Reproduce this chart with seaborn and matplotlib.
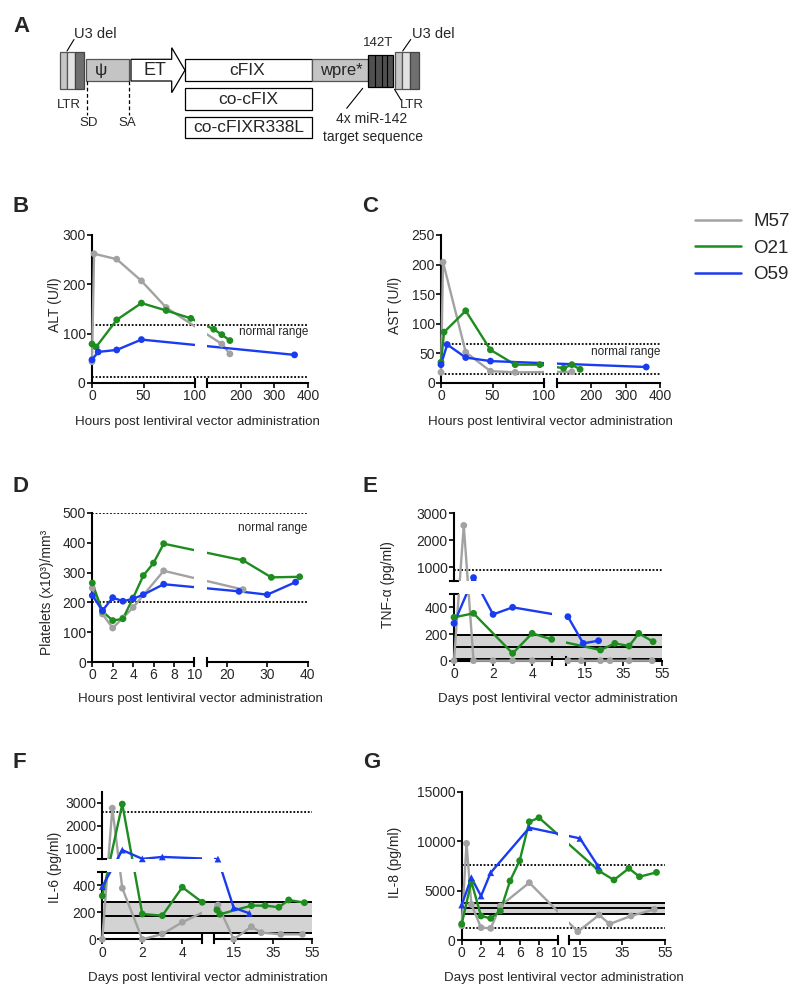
import numpy as np
import pandas as pd
import matplotlib
matplotlib.use("Agg")
import matplotlib.pyplot as plt
import seaborn as sns
from matplotlib.path import Path
from matplotlib.patches import Rectangle, Polygon
from matplotlib.lines import Line2D
from matplotlib.ticker import NullLocator

sns.set_style("ticks")
plt.rcParams["font.family"] = ["Liberation Sans", "DejaVu Sans"]

W, H = 800, 1000
ANIMALS = ["M57", "O21", "O59"]
PALETTE = {"M57": "#a2a2a2", "O21": "#1e8c1e", "O59": "#1a3cf0"}

# ---------------- data ----------------
# B: ALT (U/l) vs hours
alt_x_m57 = [0, 2, 24, 48, 72, 144, 168]
alt_y_m57 = [43, 262, 251, 207, 153, 79, 59]
alt_x_o21 = [0, 4, 24, 48, 72, 96, 120, 144, 168]
alt_y_o21 = [79, 73, 128, 162, 147, 131, 109, 98, 86]
alt_x_o59 = [0, 6, 24, 48, 360]
alt_y_o59 = [47, 63, 67, 88, 57]
alt_normal = [12, 118]

# C: AST (U/l) vs hours
ast_x_m57 = [0, 2, 24, 48, 72, 144]
ast_y_m57 = [18, 204, 52, 20, 18, 19]
ast_x_o21 = [0, 3, 24, 48, 72, 96, 120, 144, 168]
ast_y_o21 = [35, 86, 122, 56, 31, 31, 25, 31, 23]
ast_x_o59 = [0, 6, 24, 48, 360]
ast_y_o59 = [31, 65, 43, 37, 27]
ast_normal = [15, 66]

# D: platelets
plt_x_m57 = [0, 1, 2, 3, 4, 7, 24]
plt_y_m57 = [248, 161, 114, 148, 183, 306, 243]
plt_x_o21 = [0, 1, 2, 3, 4, 5, 6, 7, 24, 31, 38]
plt_y_o21 = [265, 170, 139, 145, 215, 290, 332, 397, 341, 284, 286]
plt_x_o59 = [0, 1, 2, 3, 4, 5, 7, 23, 30, 37]
plt_y_o59 = [223, 173, 216, 204, 212, 226, 261, 237, 226, 268]
plt_normal = [200, 500]

# E: TNF-alpha (pg/ml) vs days
tnf_x_m57 = [0, 0.5, 1, 2, 3, 4, 6, 13, 23, 28, 38, 50]
tnf_y_m57 = [0, 2550, 0, 0, 0, 0, 0, 0, 0, 0, 0, 0]
tnf_x_o21 = [0, 1, 3, 4, 5, 23, 30.5, 38, 43, 50.5]
tnf_y_o21 = [325, 355, 55, 205, 160, 80, 130, 110, 205, 143]
tnf_x_o59 = [0, 1, 2, 3, 6, 14, 22]
tnf_y_o59 = [280, 615, 347, 400, 330, 130, 150]
tnf_band = [10, 105, 190]
tnf_limit = [900]

# F: IL-6 (pg/ml) vs days
il6_x_m57 = [0, 0.5, 1, 2, 3, 4, 7, 15, 24, 29, 39, 50]
il6_y_m57 = [0, 2770, 378, 0, 39, 126, 254, 0, 93, 49, 37, 37]
il6_x_o21 = [0, 1, 2, 3, 4, 5, 6.5, 8, 24, 31, 38, 43, 51]
il6_y_o21 = [321, 2950, 187, 175, 385, 274, 217, 185, 249, 249, 237, 291, 271]
il6_x_o59 = [0, 1, 2, 3, 7, 15, 23]
il6_y_o59 = [390, 910, 520, 605, 510, 234, 192]
il6_band = [50, 175, 275]
il6_limit = [2600]

# G: IL-8 (pg/ml) vs days
il8_x_m57 = [0, 0.5, 1, 2, 3, 4, 7, 14, 24, 29, 39, 50]
il8_y_m57 = [1450, 9770, 3600, 1250, 1180, 3440, 5800, 840, 2530, 1620, 2430, 3100]
il8_x_o21 = [0, 1, 2, 3, 4, 5, 6, 7, 8, 24, 31, 38, 43, 51]
il8_y_o21 = [1620, 5900, 2430, 2190, 2930, 5970, 8020, 11960, 12370, 6980, 6070, 7250, 6400, 6840]
il8_x_o59 = [0, 1, 2, 3, 7, 15, 23.5]
il8_y_o59 = [3540, 6300, 4450, 6810, 11360, 10280, 7480]
il8_band = [2630, 3200, 3775]
il8_limit = [1250, 7550]

# ---------------- helpers ----------------
fig = plt.figure(figsize=(8, 10), dpi=100)

LW_AX = 1.5
LW_DATA = 1.7


def frame(xs, ys):
    parts = [pd.DataFrame({"x": x, "y": y, "animal": a}) for a, x, y in zip(ANIMALS, xs, ys)]
    return pd.concat(parts, ignore_index=True)


def pw_map(segs):
    xp, up = [], []
    for d0, d1, u0, u1 in segs:
        if xp and d0 <= xp[-1]:
            d0 = xp[-1] + 1e-6 * (abs(xp[-1]) + 1)
        xp += [d0, d1]
        up += [u0, u1]
    xp = np.array(xp, float)
    up = np.array(up, float)

    def lin(v, a, b):
        v = np.asarray(v, float)
        out = np.interp(v, a, b)
        s0 = (b[1] - b[0]) / (a[1] - a[0])
        s1 = (b[-1] - b[-2]) / (a[-1] - a[-2])
        out = np.where(v < a[0], b[0] + (v - a[0]) * s0, out)
        out = np.where(v > a[-1], b[-1] + (v - a[-1]) * s1, out)
        return out

    return (lambda v: lin(v, xp, up)), (lambda v: lin(v, up, xp))


def clip_path(xs, ys, pad=0.15):
    verts, codes = [], []
    for i, (x0, x1) in enumerate(xs):
        if i == 0:
            x0 -= pad
        if i == len(xs) - 1:
            x1 += pad
        for j, (y0, y1) in enumerate(ys):
            if j == 0:
                y0 -= pad
            if j == len(ys) - 1:
                y1 += pad
            verts += [(x0, y0), (x1, y0), (x1, y1), (x0, y1), (x0, y0)]
            codes += [Path.MOVETO, Path.LINETO, Path.LINETO, Path.LINETO, Path.CLOSEPOLY]
    return Path(verts, codes)


def panel(box, xsegs_px, ysegs_px, xticks, yticks, xs, ys, ylabel, xlabel,
          ylab_px, xlab_px, tri=False, dotted=(), band=None, normal=None):
    left, top, right, bottom = box
    w, h = right - left, bottom - top
    ax = fig.add_axes([left / W, 1 - bottom / H, w / W, h / H])
    xsegs = [(d0, d1, (p0 - left) / w, (p1 - left) / w) for d0, d1, p0, p1 in xsegs_px]
    ysegs = [(d0, d1, (bottom - p0) / h, (bottom - p1) / h) for d0, d1, p0, p1 in ysegs_px]

    df = frame(xs, ys)
    sns.lineplot(data=df, x="x", y="y", hue="animal", hue_order=ANIMALS,
                 palette=PALETTE, estimator=None, sort=True, lw=LW_DATA,
                 legend=False, ax=ax, zorder=2)
    data_lines = list(ax.lines)
    markers = {"M57": "o", "O21": "o", "O59": "^" if tri else "o"}
    sns.scatterplot(data=df, x="x", y="y", hue="animal", hue_order=ANIMALS,
                    style="animal", markers=markers, palette=PALETTE, s=24,
                    linewidth=0, legend=False, ax=ax, zorder=3, clip_on=False)

    ax.set_xscale("function", functions=pw_map(xsegs))
    ax.set_yscale("function", functions=pw_map(ysegs))
    ax.set_xlim(xsegs[0][0], xsegs[-1][1])
    ax.set_ylim(ysegs[0][0], ysegs[-1][1])

    cp = clip_path([(s[2], s[3]) for s in xsegs], [(s[2], s[3]) for s in ysegs])
    for ln in data_lines:
        ln.set_clip_box(None)
        ln.set_clip_path(cp, ax.transAxes)

    for sp in ax.spines.values():
        sp.set_visible(False)

    kw = dict(transform=ax.transAxes, color="k", lw=LW_AX, clip_on=False,
              solid_capstyle="projecting", zorder=1.8)
    capy, capx = 4.0 / h, 4.0 / w
    for i, s in enumerate(xsegs):
        ax.plot([s[2], s[3]], [0, 0], **kw)
        if i > 0:
            ax.plot([s[2]] * 2, [-capy, capy], **kw)
        if i < len(xsegs) - 1:
            ax.plot([s[3]] * 2, [-capy, capy], **kw)
    for i, s in enumerate(ysegs):
        ax.plot([0, 0], [s[2], s[3]], **kw)
        if i > 0:
            ax.plot([-capx, capx], [s[2]] * 2, **kw)
        if i < len(ysegs) - 1:
            ax.plot([-capx, capx], [s[3]] * 2, **kw)

    ax.set_xticks(xticks, labels=[f"{t:g}" for t in xticks])
    ax.set_yticks(yticks, labels=[f"{t:g}" for t in yticks])
    ax.xaxis.set_minor_locator(NullLocator())
    ax.yaxis.set_minor_locator(NullLocator())
    ax.tick_params(axis="both", direction="out", length=3.5, width=1.4,
                   labelsize=10, bottom=True, left=True, top=False, right=False)
    ax.tick_params(axis="x", pad=1)
    ax.tick_params(axis="y", pad=1)

    for yv in dotted:
        ax.axhline(yv, color="k", lw=1.3, ls=(0, (1, 1)), zorder=1)
    if band is not None:
        ax.axhspan(band[0], band[-1], facecolor="#d3d3d3", edgecolor="none", zorder=0.5)
        for yv in band:
            ax.axhline(yv, color="k", lw=1.4, zorder=1)
    if normal is not None:
        ax.text(1.0, (bottom - normal) / h, "normal range", transform=ax.transAxes,
                ha="right", va="center", fontsize=8.5)

    ax.set_xlabel(xlabel, fontsize=9.6)
    ax.set_ylabel(ylabel, fontsize=10)
    ax.xaxis.set_label_coords((xlab_px[0] - left) / w, (bottom - xlab_px[1]) / h)
    ax.yaxis.set_label_coords((ylab_px[0] - left) / w, (bottom - ylab_px[1]) / h)
    ax.xaxis.label.set_va("center")
    ax.yaxis.label.set_va("center")
    ax.yaxis.label.set_ha("center")
    return ax


HRS = "Hours post lentiviral vector administration"
DAYS = "Days post lentiviral vector administration"

panel((92, 235, 308, 383), [(0, 100, 92, 195), (100, 400, 207, 308)], [(0, 300, 383, 235)],
      [0, 50, 100, 200, 300, 400], [0, 100, 200, 300],
      [alt_x_m57, alt_x_o21, alt_x_o59], [alt_y_m57, alt_y_o21, alt_y_o59],
      "ALT (U/l)", HRS, (55, 305), (197, 421.7), dotted=alt_normal, normal=331.7)

panel((441, 235, 660, 383), [(0, 100, 441, 544), (100, 400, 556.7, 660)], [(0, 250, 383, 235)],
      [0, 50, 100, 200, 300, 400], [0, 50, 100, 150, 200, 250],
      [ast_x_m57, ast_x_o21, ast_x_o59], [ast_y_m57, ast_y_o21, ast_y_o59],
      "AST (U/l)", HRS, (395, 305), (550, 421.7), dotted=ast_normal, normal=351.7)

panel((92.3, 513, 307.7, 662), [(0, 10, 92.3, 194.3), (15, 40, 206.7, 307.7)], [(0, 500, 662, 513)],
      [0, 2, 4, 6, 8, 10, 20, 30, 40], [0, 100, 200, 300, 400, 500],
      [plt_x_m57, plt_x_o21, plt_x_o59], [plt_y_m57, plt_y_o21, plt_y_o59],
      "Platelets (x10³)/mm³", HRS, (47, 592), (200, 699), dotted=plt_normal, normal=528)

panel((454, 513.3, 661.7, 660.7), [(0, 5, 454, 551.7), (5, 55, 566, 661.7)],
      [(0, 500, 660.7, 594), (500, 3000, 580.7, 513.3)],
      [0, 2, 4, 15, 35, 55], [0, 200, 400, 1000, 2000, 3000],
      [tnf_x_m57, tnf_x_o21, tnf_x_o59], [tnf_y_m57, tnf_y_o21, tnf_y_o59],
      "TNF-α (pg/ml)", DAYS, (388, 585), (558, 699), dotted=tnf_limit, band=tnf_band)

panel((102.3, 791.7, 312.3, 939.3), [(0, 5, 102.3, 202.3), (5, 55, 214, 312.3)],
      [(0, 500, 939.3, 871.7), (500, 3500, 859.3, 791.7)],
      [0, 2, 4, 15, 35, 55], [0, 200, 400, 1000, 2000, 3000],
      [il6_x_m57, il6_x_o21, il6_x_o59], [il6_y_m57, il6_y_o21, il6_y_o59],
      "IL-6 (pg/ml)", DAYS, (55, 867), (208, 978), tri=True, dotted=il6_limit, band=il6_band)

panel((461.7, 791.7, 665, 940), [(0, 10, 461.7, 558.3), (10, 55, 569.3, 665)],
      [(0, 15000, 940, 791.7)],
      [0, 2, 4, 6, 8, 10, 15, 35, 55], [0, 5000, 10000, 15000],
      [il8_x_m57, il8_x_o21, il8_x_o59], [il8_y_m57, il8_y_o21, il8_y_o59],
      "IL-8 (pg/ml)", DAYS, (395, 862), (564, 978), tri=True, dotted=il8_limit, band=il8_band)

# legend
handles = [Line2D([], [], color=PALETTE[a], lw=1.8) for a in ANIMALS]
fig.legend(handles, ANIMALS, loc="upper left", bbox_to_anchor=(695 / W, 1 - 213 / H),
           frameon=False, fontsize=13.5, handlelength=2.45, handletextpad=0.65,
           labelspacing=0.5, borderpad=0, borderaxespad=0)

# panel letters
for letter, (lx, ly) in {"A": (13, 31.7), "B": (13, 212), "C": (362, 212), "D": (13, 492),
                         "E": (363, 492), "F": (13, 768), "G": (363, 768)}.items():
    fig.text(lx / W, 1 - ly / H, letter, fontsize=16, fontweight="bold",
             ha="left", va="baseline")

# ---------------- panel A: vector diagram ----------------
axA = fig.add_axes([0, 1 - 170 / H, 560 / W, 170 / H])
axA.set_xlim(0, 560)
axA.set_ylim(170, 0)
axA.axis("off")


def box(x0, y0, x1, y1, fc, ec="k", lw=0.9, z=2):
    axA.add_patch(Rectangle((x0, y0), x1 - x0, y1 - y0, facecolor=fc, edgecolor=ec, lw=lw, zorder=z))


for xl in (60, 395):
    box(xl, 51.7, xl + 7, 89.3, "#c6c6c6", ec="#555555")
    box(xl + 7, 51.7, xl + 15, 89.3, "#e2e2e2", ec="#555555")
    box(xl + 15, 51.7, xl + 23.5, 89.3, "#6f6f6f", ec="#444444")

box(86, 59.3, 129.3, 81, "#c4c4c4", ec="#555555")
axA.text(101, 70.5, "ψ", ha="center", va="center", fontsize=12.5)
axA.add_patch(Polygon([(131, 59.3), (171.7, 59.3), (171.7, 47.7), (185, 70.2),
                       (171.7, 92.7), (171.7, 81), (131, 81)], closed=True,
                      facecolor="white", edgecolor="k", lw=0.9, zorder=2))
axA.text(155, 70.5, "ET", ha="center", va="center", fontsize=13)
box(185, 59.3, 311.7, 81, "white")
axA.text(247, 70.5, "cFIX", ha="center", va="center", fontsize=12.5)
box(311.7, 59.3, 368.3, 81, "#c4c4c4", ec="#555555")
axA.text(341, 70.5, "wpre*", ha="center", va="center", fontsize=12)
box(368.3, 55, 393.3, 87.3, "#4f4f4f")
for xd in (375, 381.7, 387.3):
    axA.plot([xd, xd], [55, 87.3], color="k", lw=0.8, zorder=3)
box(185, 88.3, 311.7, 110, "white")
axA.text(248.3, 99.5, "co-cFIX", ha="center", va="center", fontsize=12.5)
box(185, 116.7, 311.7, 138.3, "white")
axA.text(248.3, 128, "co-cFIXR338L", ha="center", va="center", fontsize=12.5)

for xd in (86.7, 129):
    axA.plot([xd, xd], [81, 115], color="k", lw=0.9, ls=(0, (3, 2)))
axA.text(88.3, 123, "SD", ha="center", va="center", fontsize=9.5)
axA.text(127.7, 123, "SA", ha="center", va="center", fontsize=9.5)
axA.text(69, 105, "LTR", ha="center", va="center", fontsize=9.5)
axA.text(411.7, 105, "LTR", ha="center", va="center", fontsize=9.5)
axA.plot([394.5, 401], [89.3, 100], color="k", lw=0.8)
axA.text(74, 34.5, "U3 del", ha="left", va="center", fontsize=10.5)
axA.plot([67, 74], [51, 39.5], color="k", lw=0.8)
axA.text(411.7, 34.5, "U3 del", ha="left", va="center", fontsize=10.5)
axA.plot([402.7, 410.7], [51, 39.5], color="k", lw=0.8)
axA.text(378.3, 43.5, "142T", ha="center", va="center", fontsize=9.5)
axA.plot([362.7, 346.7], [88.3, 108.3], color="k", lw=0.8)
axA.text(371.7, 119, "4x miR-142", ha="center", va="center", fontsize=10)
axA.text(372.7, 137, "target sequence", ha="center", va="center", fontsize=10)

fig.savefig("out.png", dpi=100)
